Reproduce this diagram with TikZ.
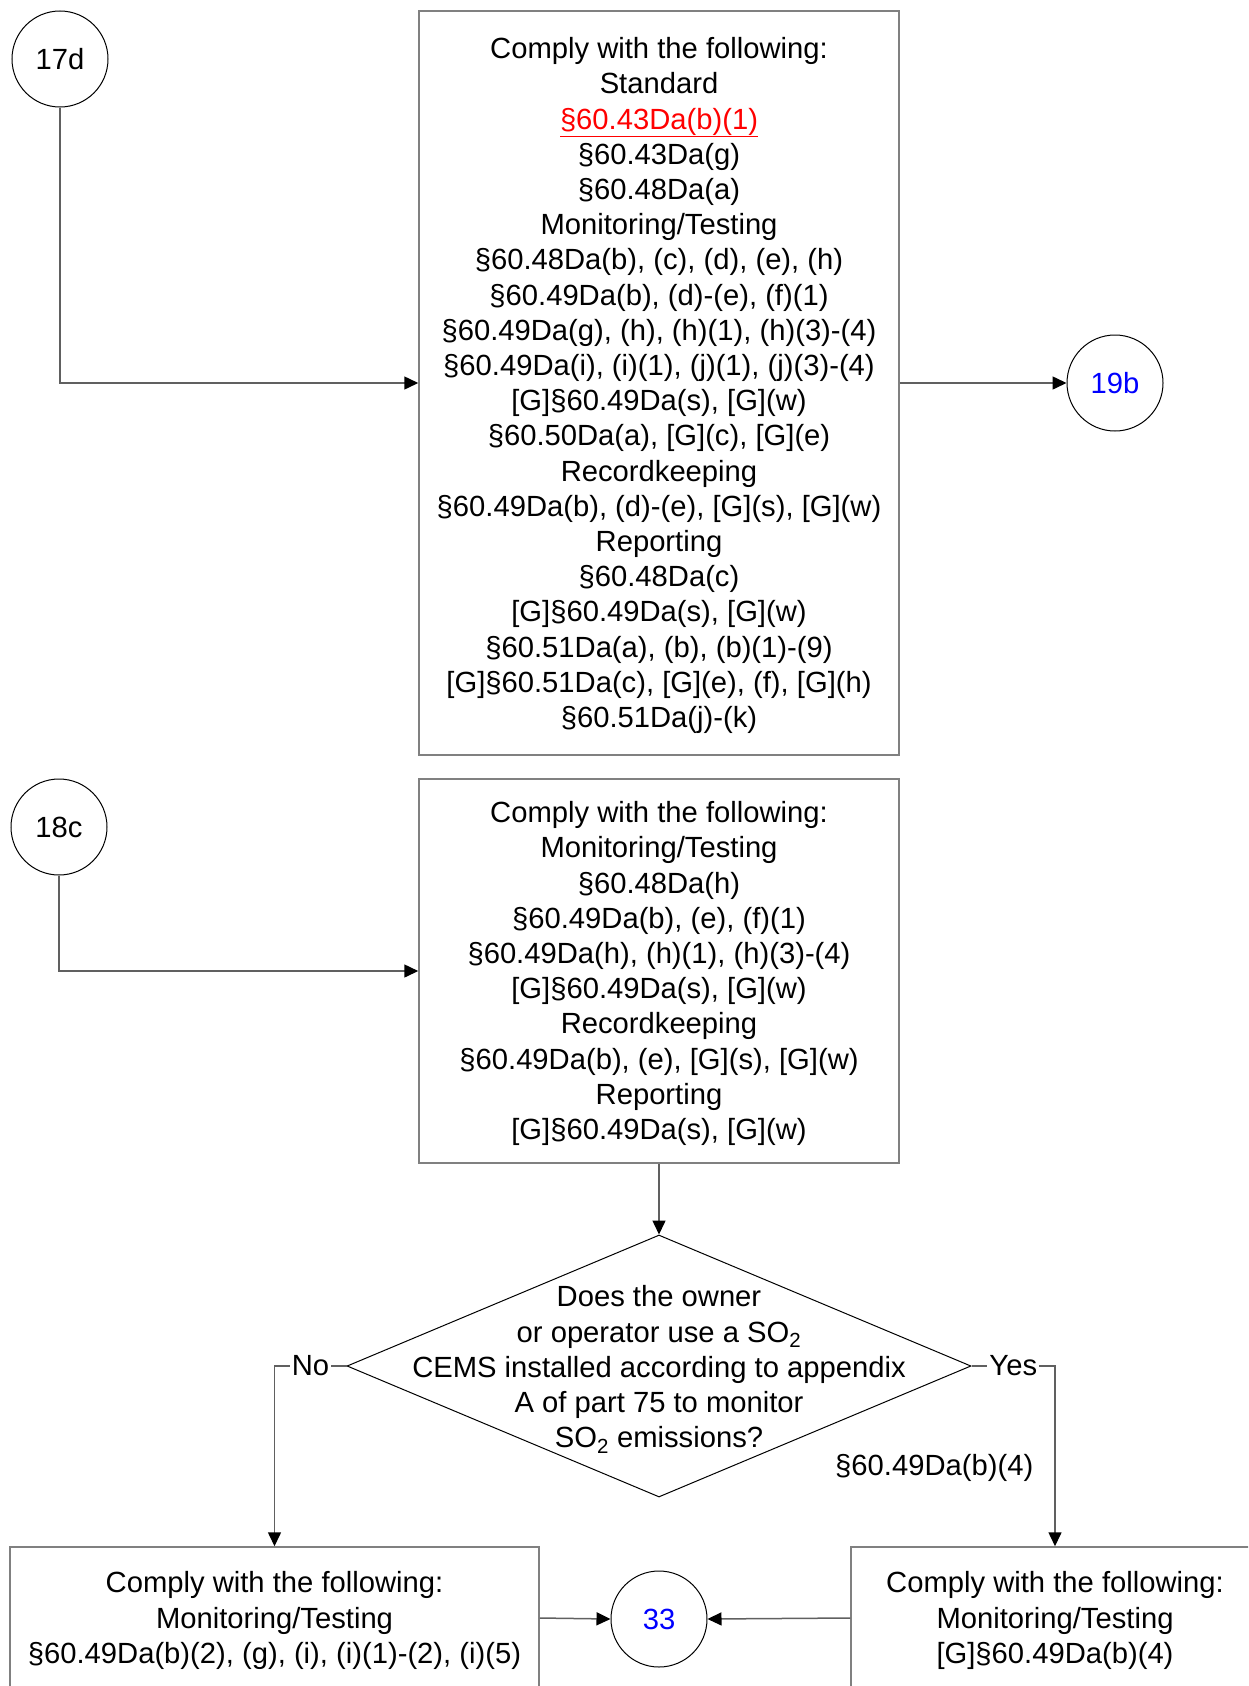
\documentclass[tikz,border=0pt]{standalone}
\usepackage{fontspec}
\setmainfont{Liberation Sans}
\usetikzlibrary{shapes.geometric,arrows.meta}
\definecolor{boxgray}{HTML}{808080}
\definecolor{linegray}{HTML}{606060}
\definecolor{linkblue}{HTML}{0000FF}
\definecolor{linkred}{HTML}{FF0000}
\newcommand{\topstrut}{\rule{0pt}{26.3pt}}
\begin{document}
\begin{tikzpicture}[x=1pt,y=-1pt,
  every node/.style={font=\fontsize{29.2}{35.2}\selectfont},
  box/.style={draw=boxgray, line width=1.5pt, rectangle, align=center, inner sep=0pt},
  conn/.style={circle, draw=black, line width=1pt, minimum size=96pt, inner sep=0pt},
  arr/.style={draw=linegray, line width=1.5pt, -{Triangle[length=14pt,width=13pt,color=black]}},
  lab/.style={fill=white, inner sep=2pt}]
\useasboundingbox (0,0) rectangle (1248,1686);
\clip (0,0) rectangle (1248,1686);
\fill[white] (0,0) rectangle (1248,1686);

\node[conn] (c17) at (60,59) {17d};
\node[box, minimum width=480pt, minimum height=744pt] (b1) at (659,383)
 {\topstrut Comply with the following:\\Standard\\\textcolor{linkred}{\underline{§60.43Da(b)(1)}}\\§60.43Da(g)\\§60.48Da(a)\\Monitoring/Testing\\§60.48Da(b), (c), (d), (e), (h)\\§60.49Da(b), (d)-(e), (f)(1)\\§60.49Da(g), (h), (h)(1), (h)(3)-(4)\\§60.49Da(i), (i)(1), (j)(1), (j)(3)-(4)\\{[G]}§60.49Da(s), [G](w)\\§60.50Da(a), [G](c), [G](e)\\Recordkeeping\\§60.49Da(b), (d)-(e), [G](s), [G](w)\\Reporting\\§60.48Da(c)\\{[G]}§60.49Da(s), [G](w)\\§60.51Da(a), (b), (b)(1)-(9)\\{[G]}§60.51Da(c), [G](e), (f), [G](h)\\§60.51Da(j)-(k)};
\node[conn] (c19) at (1115,383) {\textcolor{linkblue}{19b}};

\node[conn] (c18) at (59,827) {18c};
\node[box, minimum width=480pt, minimum height=384pt] (b2) at (659,971)
 {\topstrut Comply with the following:\\Monitoring/Testing\\§60.48Da(h)\\§60.49Da(b), (e), (f)(1)\\§60.49Da(h), (h)(1), (h)(3)-(4)\\{[G]}§60.49Da(s), [G](w)\\Recordkeeping\\§60.49Da(b), (e), [G](s), [G](w)\\Reporting\\{[G]}§60.49Da(s), [G](w)};

\node[diamond, draw=black, line width=1pt, minimum width=624pt, minimum height=262pt, inner sep=0pt] (dia) at (659,1366) {};
\node[align=center, inner sep=0pt, yshift=-3.5pt] (dt) at (dia.center)
 {Does the owner\\or operator use a SO\textsubscript{2}\\CEMS installed according to appendix\\A of part 75 to monitor\\SO\textsubscript{2} emissions?};

\node[box, minimum width=529pt, minimum height=142pt] (lb) at (274.5,1618)
 {\topstrut Comply with the following:\\Monitoring/Testing\\§60.49Da(b)(2), (g), (i), (i)(1)-(2), (i)(5)};
\node[box, minimum width=408pt, minimum height=142pt] (rb) at (1055,1618)
 {\topstrut Comply with the following:\\Monitoring/Testing\\{[G]}§60.49Da(b)(4)};
\node[conn] (c33) at (659,1619) {\textcolor{linkblue}{33}};

\draw[arr] (c17.south) |- (b1.west);
\draw[arr] (b1.east) -- (c19.west);
\draw[arr] (c18.south) |- (b2.west);
\draw[arr] (b2.south) -- (dia.north);
\draw[arr] (dia.west) -| node[lab, pos=0.25] {No} (lb.north);
\draw[arr] (dia.east) -| node[lab, pos=0.25] {Yes}
   node[pos=0.783, left=21pt, inner sep=0pt] {§60.49Da(b)(4)} (rb.north);
\draw[arr] (lb.east) -- (c33.west);
\draw[arr] (rb.west) -- (c33.east);
\end{tikzpicture}
\end{document}
